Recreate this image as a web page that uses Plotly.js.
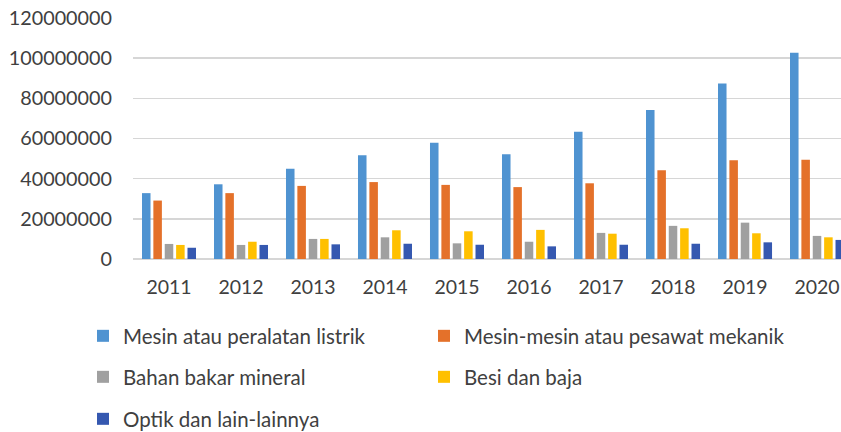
<!DOCTYPE html>
<html>
<head>
<meta charset="utf-8">
<script src="https://cdn.plot.ly/plotly-3.0.1.min.js"></script>
<style>html,body{margin:0;padding:0;background:#fff;}#chart{width:841px;height:432px;}</style>
</head>
<body>
<div id="chart"></div>
<script>
const years = ['2011','2012','2013','2014','2015','2016','2017','2018','2019','2020'];
const seriesNames = ['Mesin atau peralatan listrik','Mesin-mesin atau pesawat mekanik','Bahan bakar mineral','Besi dan baja','Optik dan lain-lainnya'];
const mesinListrik = [32800000,37200000,45000000,51700000,57900000,52200000,63300000,74200000,87400000,102700000];
const mesinMekanik = [29100000,32800000,36400000,38300000,36900000,35800000,37700000,44200000,49200000,49400000];
const bahanBakar   = [7500000,7000000,10000000,10800000,7800000,8600000,13000000,16500000,18100000,11500000];
const besiBaja     = [7000000,8600000,10000000,14300000,13800000,14500000,12600000,15300000,12800000,10800000];
const optik        = [5600000,7000000,7300000,7600000,7100000,6300000,7100000,7600000,8300000,9500000];
const yTicks = [0,20000000,40000000,60000000,80000000,100000000,120000000];
const yTickText = ['0','20000000','40000000','60000000','80000000','100000000','120000000'];

const colors = ['#4F93D1','#E4712A','#A0A0A0','#FFC000','#3558B0'];
const values = [mesinListrik, mesinMekanik, bahanBakar, besiBaja, optik];
const legendIds = ['legend','legend2','legend3','legend4','legend5'];

const data = values.map((v,i)=>({
  type:'bar', x: years, y: v, name: seriesNames[i],
  marker:{color: colors[i], line:{width:0}},
  legend: legendIds[i], hoverinfo:'none'
}));

const FONT = 'Lato, "Open Sans", sans-serif';
const legendBase = {
  orientation:'h', xanchor:'left', yanchor:'middle',
  font:{family:FONT, size:20.5, color:'#404040'},
  bgcolor:'rgba(0,0,0,0)'
};
const plotL = 133, plotW = 841-133;
const plotH = 432-18-173;
function ly(py){ return (432-173-py)/plotH; }
function lx(px){ return (px-plotL)/plotW; }
const col1 = lx(83), col2 = lx(424);
const row1 = ly(336), row2 = ly(377), row3 = ly(419);

const layout = {
  width:841, height:432,
  margin:{l:133, r:0, t:18, b:173, autoexpand:false},
  paper_bgcolor:'#fff', plot_bgcolor:'#fff',
  barmode:'group', bargap:0.21, bargroupgap:0.25,
  font:{family:FONT, color:'#404040'},
  xaxis:{
    type:'category', range:[-0.5, 9.333], fixedrange:true,
    showgrid:false, zeroline:false, showline:false, ticks:'',
    tickfont:{family:FONT, size:19.5, color:'#404040'},
    ticklabelstandoff:14, automargin:false
  },
  yaxis:{
    range:[0,120000000], tickvals:yTicks, ticktext:yTickText,
    showgrid:true, gridcolor:'#D6D6D6', gridwidth:1.6,
    zeroline:true, zerolinecolor:'#D6D6D6', zerolinewidth:1.6,
    showline:false, ticks:'',
    tickfont:{family:FONT, size:19.8, color:'#404040'},
    ticklabelstandoff:20, automargin:false
  },
  showlegend:true,
  legend:  Object.assign({}, legendBase, {x: col1, y: row1}),
  legend2: Object.assign({}, legendBase, {x: col2, y: row1}),
  legend3: Object.assign({}, legendBase, {x: col1, y: row2}),
  legend4: Object.assign({}, legendBase, {x: col2, y: row2}),
  legend5: Object.assign({}, legendBase, {x: col1, y: row3})
};

Plotly.newPlot('chart', data, layout, {displayModeBar:false, staticPlot:true});
</script>
</body>
</html>
